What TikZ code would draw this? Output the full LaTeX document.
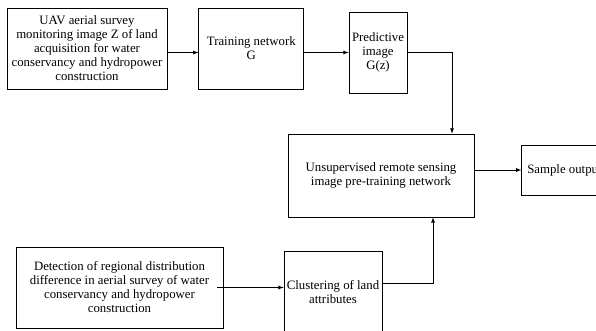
\documentclass[tikz,border=0pt]{standalone}
\usepackage{fontspec}
\setmainfont{Liberation Serif}
\usepackage{tikz}
\usetikzlibrary{positioning}

\begin{document}
\begin{tikzpicture}[x=1pt,y=1pt,>=latex,line width=0.8pt,
        blk/.style={draw,align=center,inner sep=2pt,font=\fontsize{12.8}{14}\selectfont}]
        \clip (0,0) rectangle (596,330);
        \node[blk,minimum width=160pt,minimum height=81pt] (uav) at (87,281.5)
            {UAV aerial survey\\monitoring image Z of land\\acquisition for water\\conservancy and hydropower\\construction};
        \node[blk,minimum width=105pt,minimum height=81pt] (train) [right=31pt of uav] {Training network\\G};
        \node[blk,minimum width=58pt,minimum height=81pt] (pred) at (378,277.5) {Predictive\\image\\G(z)};
        \node[blk,minimum width=186pt,minimum height=83pt] (pre) at (381,154.5)
            {Unsupervised remote sensing\\image pre-training network};
        \node[blk,inner xsep=5.5pt,minimum height=50pt] (out) [right=47pt of pre,yshift=5.5pt] {Sample output};
        \node[blk,minimum width=207pt,minimum height=81pt] (det) at (119.5,42.5)
            {Detection of regional distribution\\difference in aerial survey of water\\conservancy and hydropower\\construction};
        \node[blk,minimum width=98pt,minimum height=82pt] (clu) at (333,38) {Clustering of land\\attributes};

        \draw[->] (uav.east |- pred.west) -- (train.west |- pred.west);
        \draw[->] (train.east |- pred.west) -- (pred.west);
        \draw[->] (pred.east) -| ([xshift=71pt]pre.north);
        \draw[->] (pre.east |- out.west) -- (out.west);
        \draw[->] ([xshift=-6pt]det.east) -- (clu.west |- det.east);
        \draw[->] ([yshift=9pt]clu.east) -| ([xshift=52pt]pre.south);
    \end{tikzpicture}
\end{document}
